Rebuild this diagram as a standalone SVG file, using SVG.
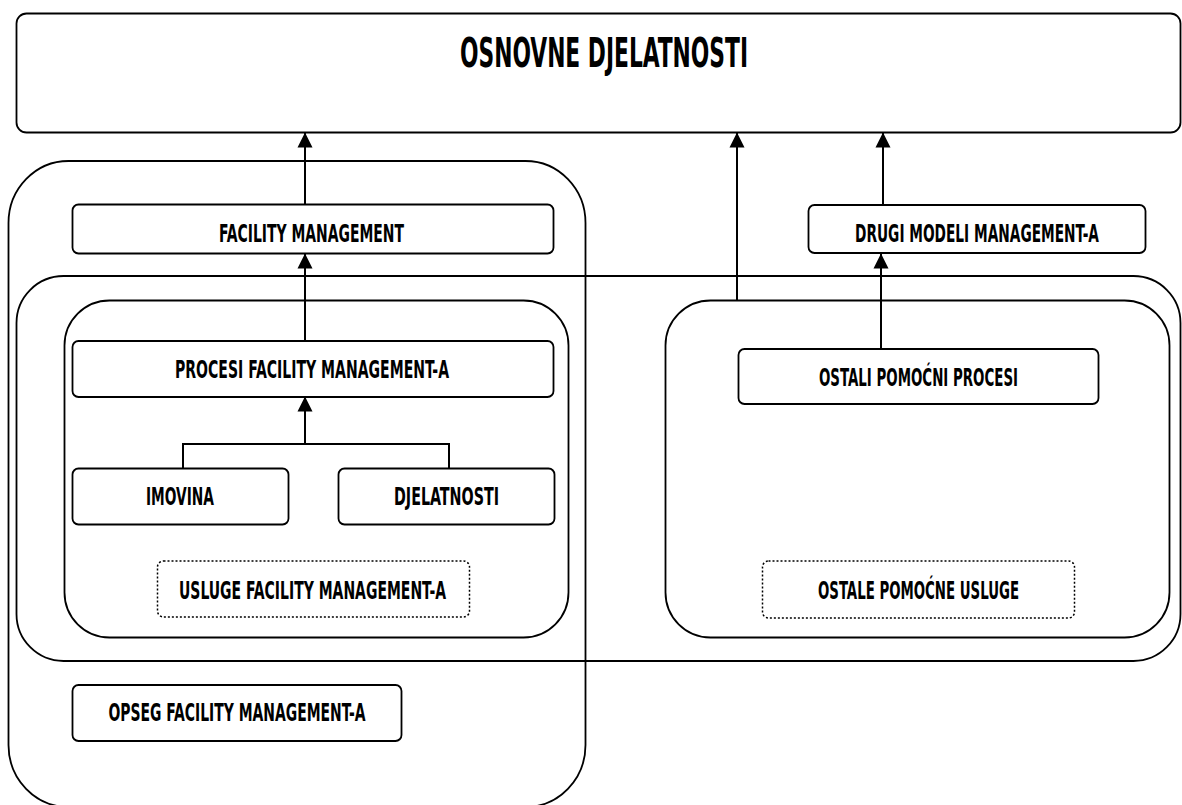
<svg xmlns="http://www.w3.org/2000/svg" width="1182" height="805" viewBox="0 0 1182 805">
<style>
.c{fill:none;stroke:#000;stroke-width:1.8}
.b{fill:#fff;stroke:#000;stroke-width:1.8}
.d{fill:#fff;stroke:#000;stroke-width:1.5;stroke-dasharray:2 2}
.t{font-family:"Liberation Sans Narrow","DejaVu Sans Condensed","Liberation Sans",sans-serif;font-weight:bold;font-size:25px;text-anchor:middle;fill:#000}
.big{font-size:41px}
.e{fill:none;stroke:#000;stroke-width:2}
</style>
<defs>
<marker id="ah" markerUnits="userSpaceOnUse" markerWidth="16" markerHeight="16" refX="15" refY="8" orient="auto" viewBox="0 0 16 16">
<path d="M15.5 8 L0.5 0.5 L0.5 15.5 Z" fill="#000"/>
</marker>
</defs>
<g id="containers">
<rect id="scope" class="c" x="8.5" y="161" width="577" height="646" rx="60" ry="62"/>
<rect id="support" class="c" x="16.5" y="276" width="1164" height="385" rx="47" ry="47"/>
<rect id="fm-inner" class="c" x="64.5" y="300.5" width="504" height="337" rx="45" ry="45"/>
<rect id="other-inner" class="c" x="665.5" y="300.5" width="504" height="337" rx="45" ry="45"/>
</g>
<g id="n-top"><rect class="b" x="16.5" y="13.5" width="1164" height="119" rx="10"/><text class="t big" x="604" y="67" textLength="288" lengthAdjust="spacingAndGlyphs">OSNOVNE DJELATNOSTI</text></g>
<g id="n-fm"><rect class="b" x="72.5" y="204.5" width="481" height="49" rx="6"/><text class="t" x="311.5" y="242" textLength="185" lengthAdjust="spacingAndGlyphs">FACILITY MANAGEMENT</text></g>
<g id="n-drugi"><rect class="b" x="808.5" y="205" width="337" height="48" rx="6"/><text class="t" x="977" y="242" textLength="244" lengthAdjust="spacingAndGlyphs">DRUGI MODELI MANAGEMENT-A</text></g>
<g id="n-procesi"><rect class="b" x="72.5" y="341" width="481" height="56" rx="6"/><text class="t" x="312" y="378" textLength="274" lengthAdjust="spacingAndGlyphs">PROCESI FACILITY MANAGEMENT-A</text></g>
<g id="n-imovina"><rect class="b" x="72.5" y="468.5" width="216" height="56" rx="6"/><text class="t" x="180" y="505" textLength="68" lengthAdjust="spacingAndGlyphs">IMOVINA</text></g>
<g id="n-djelatnosti"><rect class="b" x="338.5" y="468.5" width="216" height="56" rx="6"/><text class="t" x="446.5" y="505" textLength="105" lengthAdjust="spacingAndGlyphs">DJELATNOSTI</text></g>
<g id="n-usluge"><rect class="d" x="157.5" y="561" width="312" height="56" rx="6"/><text class="t" x="312.5" y="599" textLength="267" lengthAdjust="spacingAndGlyphs">USLUGE FACILITY MANAGEMENT-A</text></g>
<g id="n-ostali-procesi"><rect class="b" x="738.5" y="349" width="360" height="55" rx="6"/><text class="t" x="918.5" y="386" textLength="199" lengthAdjust="spacingAndGlyphs">OSTALI POMOĆNI PROCESI</text></g>
<g id="n-ostale-usluge"><rect class="d" x="762.5" y="561" width="312" height="57" rx="6"/><text class="t" x="918.5" y="599" textLength="201" lengthAdjust="spacingAndGlyphs">OSTALE POMOĆNE USLUGE</text></g>
<g id="n-opseg"><rect class="b" x="72.5" y="685" width="329" height="56" rx="6"/><text class="t" x="237" y="721" textLength="257" lengthAdjust="spacingAndGlyphs">OPSEG FACILITY MANAGEMENT-A</text></g>
<g id="connectors">
<line class="e" x1="305" y1="204" x2="305" y2="133" marker-end="url(#ah)"/>
<line class="e" x1="305" y1="341" x2="305" y2="254" marker-end="url(#ah)"/>
<path class="e" d="M183 468 V444 H449 V468"/>
<line class="e" x1="305" y1="444" x2="305" y2="397" marker-end="url(#ah)"/>
<line class="e" x1="737" y1="300" x2="737" y2="133" marker-end="url(#ah)"/>
<line class="e" x1="883" y1="205" x2="883" y2="133" marker-end="url(#ah)"/>
<line class="e" x1="881" y1="349" x2="881" y2="254" marker-end="url(#ah)"/>
</g>
</svg>
